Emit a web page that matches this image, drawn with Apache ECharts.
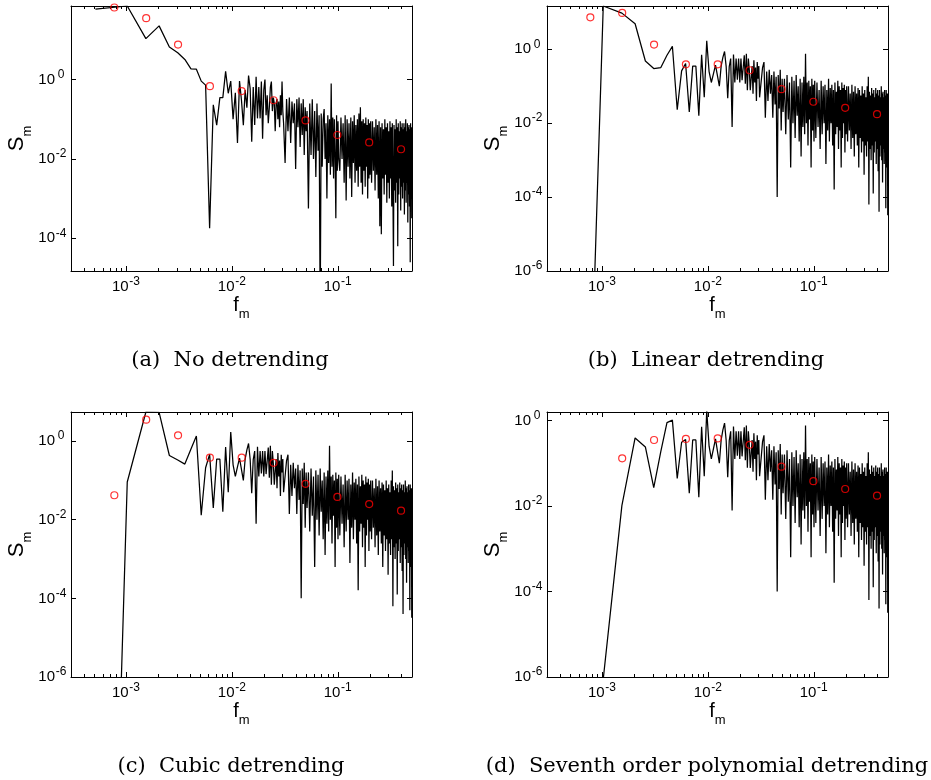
<!DOCTYPE html>
<html><head><meta charset="utf-8">
<script src="https://cdn.jsdelivr.net/npm/echarts@6/dist/echarts.min.js"></script>
<style>html,body{margin:0;padding:0;background:#fff}#c{width:931px;height:780px}</style>
</head><body><div id="c"></div>
<script>
// ---- data ----
const DF = 0.00051; // frequency resolution of the spectrum (f_m = bin * DF)
const binsLow = [1,2,3,4,5,6,7,8,9,10,11,12,13,14,15,16,17,18,19,20,21,22,23,24,25,26,27,28,29,30,
  31,32,33,34,35,36,37,38,39,40,41,42,43,44,45,46,47,48,49,50,51,52,53,54,55,56,57,58,59,60];
const binsTail = [62,64,66,68,70,72,74,76,78,80,82,84,86,88,90,92,94,96,98,100,
  103,106,109,112,115,118,121,124,127,130,133,136,139,142,145,148,151,154,157,160,163,166,169,172,175,178,181,184,187,190,193,196,199,
  204,209,214,219,224,229,234,239,244,249,254,259,264,269,274,279,284,289,294,299,304,309,314,319,324,329,334,339,344,349,354,359,364,369,374,379,384,389,394,399,
  407,415,423,431,439,447,455,463,471,479,487,495,503,511,519,527,535,543,551,559,567,575,583,591,599,607,615,623,631,639,647,655,663,671,679,687,695,703,711,719,
  727,735,743,751,759,767,775,783,791,799,807,815,823,831,839,847,855,863,871,879,887,895,903,911,919,927,935,943,951,959,967,975];

// (a) no detrending
const sLowA = [59,71,10.7,22.4,6.6,4.7,3.2,1.86,1.82,0.91,
  0.72,1.8e-4,0.23,0.071,0.35,0.35,1.6,0.45,0.91,0.1,
  0.46,0.025,0.91,0.30,0.071,0.54,0.195,1.26,0.59,0.027,
  0.65,0.071,1.17,0.105,0.65,0.105,0.89,0.032,0.54,1.0,
  0.126,0.4,0.079,0.2,0.63,0.89,0.16,0.35,0.25,0.05,
  0.25,0.32,0.1,0.28,0.063,0.4,0.126,0.89,0.16,0.079];
const sTailA = [0.0079,0.32,0.05,0.35,0.025,0.28,0.079,0.25,0.0056,0.32,0.063,0.35,0.02,0.25,0.04,0.32,0.0126,0.2,0.05,0.16,
  5.6e-4,0.25,0.0126,0.32,0.01,0.16,0.0035,0.25,0.016,0.126,1e-6,0.14,0.0063,0.1,0.18,0.01,0.079,0.001,0.126,0.0079,
  0.1,0.004,0.79,0.0063,0.11,0.0032,0.1,0.0126,3.2e-4,0.126,0.005,0.089,0.01,
  0.005,0.11,0.01,0.079,0.0025,0.126,8.9e-4,0.1,0.0063,0.079,0.0032,0.11,0.0011,0.089,0.0079,0.126,0.0025,0.071,0.005,0.1,
  0.002,0.14,0.0063,0.2,0.0025,0.089,0.00126,0.1,0.005,0.079,0.002,0.11,0.0063,0.071,0.001,0.1,0.0032,0.079,0.004,0.089,
  0.0025,0.089,0.005,0.063,0.0016,0.1,0.004,0.071,0.001,0.089,
  2e-4,0.063,1.26e-4,0.079,0.0032,0.056,0.00126,0.1,0.004,0.063,
  7.9e-4,0.079,0.0025,0.05,0.001,0.089,0.0032,0.063,6.3e-4,0.079,
  0.002,2e-5,0.071,0.0016,0.056,7.9e-4,0.1,0.0025,0.063,6.3e-5,
  0.079,0.00126,0.05,0.0032,0.089,5e-4,0.063,0.002,0.079,0.001,
  0.056,0.0025,0.079,4e-4,0.063,0.0016,0.1,7.9e-4,0.05,0.0025,
  0.079,2.5e-4,0.063,0.00126,0.071,6.3e-4,0.056,2.5e-5,0.079,0.0016,
  0.063,3.2e-4];

// (b),(c),(d): lowest bins differ, the rest is shared
const sLowB = [1e-26,14.8,9.5,4.9,0.48,0.3,0.32,0.69,1.2,0.023,0.26,0.41];
const sLowC = [1e-28,0.091,5.5,5.4,0.43,0.33,0.26,0.63,1.35,0.013,0.21,0.46];
const sLowD = [1e-20,9e-7,0.0102,0.39,0.24,0.027,0.19,0.89,1.02,0.044,0.31,0.36];
const sMidBCD = [0.02,0.35,0.35,0.016,0.71,0.05,1.7,0.25,0.126,0.22,
  0.37,0.38,0.1,0.35,0.6,0.87,0.34,0.047,0.34,0.56,
  0.0079,0.72,0.126,0.56,0.15,0.56,0.126,0.56,0.145,0.145,
  0.69,0.117,0.76,0.078,0.56,0.27,0.078,0.17,0.35,0.063,
  0.5,0.126,0.32,0.04,0.45,0.16,0.35,0.05];
const sTailBCD = [0.05,0.32,0.45,0.014,0.25,0.04,0.28,0.063,0.2,0.014,0.25,0.032,0.18,1e-4,0.2,0.025,0.28,0.0063,0.16,0.02,
  0.16,0.005,0.2,0.0126,0.126,6.3e-4,0.18,0.01,0.14,0.004,0.2,0.016,0.1,0.0032,0.16,0.00126,0.126,0.0079,0.18,0.005,
  0.76,0.01,0.126,0.0025,0.14,0.0126,0.1,6.3e-4,0.16,0.0063,0.11,0.0032,0.14,
  0.004,0.126,0.0079,0.079,0.002,0.14,0.005,0.1,0.01,0.11,7.9e-4,0.079,0.0063,0.16,0.0032,0.089,0.01,0.11,0.0025,0.079,
  1.6e-4,0.126,0.005,0.071,0.0079,0.14,0.002,0.1,0.0063,0.079,6.3e-4,0.126,0.004,0.089,0.01,0.11,0.0016,0.079,0.005,0.1,
  0.0032,0.1,0.0063,0.063,0.002,0.11,0.004,0.071,0.00126,0.1,
  0.005,0.063,0.0025,0.089,6.3e-4,0.079,0.004,0.056,0.0016,0.1,
  0.0032,0.063,4e-4,0.079,0.0025,0.05,0.00126,0.1,0.0032,0.18,
  6.3e-5,0.071,0.002,0.056,0.001,0.089,0.0025,0.063,1.26e-4,0.079,
  0.0016,0.05,0.0032,0.089,7.9e-4,0.063,0.002,0.079,5e-4,0.056,
  4e-5,0.079,0.00126,0.05,0.0025,0.1,0.001,0.063,2.5e-4,0.071,
  0.002,0.05,7.9e-4,0.079,0.0016,0.056,5e-5,0.079,0.00126,6.3e-4,
  0.063,3.2e-5];

// octave-averaged values (red circles)
const fCircles = [0.00077,0.00154,0.00308,0.00616,0.0123,0.0246,0.0493,0.0986,0.197,0.394];
const circA = [65,35,7.6,0.68,0.51,0.30,0.093,0.040,0.026,0.0175];
const circB = [7.3,9.6,1.34,0.39,0.39,0.27,0.083,0.038,0.026,0.0175];
const circC = [0.042,3.5,1.4,0.38,0.38,0.28,0.082,0.038,0.025,0.017];
const circD = [null,0.13,0.35,0.37,0.38,0.27,0.083,0.038,0.025,0.0174];

// axes
const xRange = [3e-4, 0.5];
const yRanges = [[1.5e-5, 71], [1e-6, 14.8], [1e-6, 5.5], [1e-6, 1.58]];
const xMajor = [1e-3, 1e-2, 1e-1];
const xMinor = [4e-4,5e-4,6e-4,7e-4,8e-4,9e-4,2e-3,3e-3,4e-3,5e-3,6e-3,7e-3,8e-3,9e-3,
  2e-2,3e-2,4e-2,5e-2,6e-2,7e-2,8e-2,9e-2,0.2,0.3,0.4];
const yMajors = [[1e-4,1e-2,1],[1e-6,1e-4,1e-2,1],[1e-6,1e-4,1e-2,1],[1e-6,1e-4,1e-2,1]];
const captions = ['(a)  No detrending','(b)  Linear detrending','(c)  Cubic detrending','(d)  Seventh order polynomial detrending'];

// ---- build ----
const bins = binsLow.concat(binsTail);
const spectra = [
  sLowA.concat(sTailA),
  sLowB.concat(sMidBCD, sTailBCD),
  sLowC.concat(sMidBCD, sTailBCD),
  sLowD.concat(sMidBCD, sTailBCD)
];
const circles = [circA, circB, circC, circD];

const layout = [
  {left:71, top:6, capX:230, capY:361},
  {left:547, top:6, capX:706, capY:361},
  {left:71, top:412, capX:231, capY:767},
  {left:547, top:412, capX:707, capY:767}
];
const W = 341, H = 265;
const SANS = 'Liberation Sans';
const tickRich = {
  b: {fontFamily:SANS, fontSize:15, lineHeight:22, color:'#000'},
  e: {fontFamily:SANS, fontSize:12, lineHeight:9, width:12, align:'left', verticalAlign:'top', color:'#000'}
};
function powLabel(v) {
  const e = (v > 0 && v < 1e3) ? Math.round(Math.log10(v)) : Math.round(v);
  return '{b|10}{e|' + e + '}';
}
const black = {color:'#000', width:1};

const grid = [], xAxis = [], yAxis = [], series = [], graphic = [];
layout.forEach((L, i) => {
  grid.push({left:L.left, top:L.top, width:W, height:H, containLabel:false});
  const base = {type:'log', logBase:10, gridIndex:i, min:xRange[0], max:xRange[1], splitLine:{show:false}, minorTick:{show:false}};
  xAxis.push(Object.assign({}, base, {
    position:'bottom',
    axisLine:{show:true, onZero:false, lineStyle:black},
    axisTick:{show:true, inside:true, length:5, customValues:xMajor, lineStyle:black},
    axisLabel:{show:true, customValues:xMajor, formatter:powLabel, margin:5, rich:tickRich},
    name:'{f|f}{s|m}', nameLocation:'middle', nameGap:12,
    nameTextStyle:{rich:{
      f:{fontFamily:SANS, fontSize:20, lineHeight:22, verticalAlign:'top', color:'#000'},
      s:{fontFamily:SANS, fontSize:13, lineHeight:13, verticalAlign:'top', padding:[13,0,0,0], color:'#000'}
    }}
  }));
  xAxis.push(Object.assign({}, base, {
    position:'bottom',
    axisLine:{show:false, onZero:false},
    axisTick:{show:true, inside:true, length:3, customValues:xMinor, lineStyle:black},
    axisLabel:{show:false}
  }));
  xAxis.push(Object.assign({}, base, {
    position:'top',
    axisLine:{show:true, onZero:false, lineStyle:black},
    axisTick:{show:true, inside:true, length:5, customValues:xMajor, lineStyle:black},
    axisLabel:{show:false}
  }));
  xAxis.push(Object.assign({}, base, {
    position:'top',
    axisLine:{show:false, onZero:false},
    axisTick:{show:true, inside:true, length:3, customValues:xMinor, lineStyle:black},
    axisLabel:{show:false}
  }));
  const ybase = {type:'log', logBase:10, gridIndex:i, min:yRanges[i][0], max:yRanges[i][1], splitLine:{show:false}};
  yAxis.push(Object.assign({}, ybase, {
    position:'left',
    axisLine:{show:true, onZero:false, lineStyle:black},
    axisTick:{show:true, inside:true, length:5, customValues:yMajors[i], lineStyle:black},
    axisLabel:{show:true, customValues:yMajors[i], formatter:powLabel, margin:4, rich:tickRich},
    name:'{S|S}{s|m}', nameLocation:'middle', nameGap:36,
    nameTextStyle:{rich:{
      S:{fontFamily:SANS, fontSize:22, lineHeight:24, verticalAlign:'top', color:'#000'},
      s:{fontFamily:SANS, fontSize:13, lineHeight:12, verticalAlign:'top', padding:[15,0,0,0], color:'#000'}
    }}
  }));
  yAxis.push(Object.assign({}, ybase, {
    position:'right',
    axisLine:{show:true, onZero:false, lineStyle:black},
    axisTick:{show:true, inside:true, length:5, customValues:yMajors[i], lineStyle:black},
    axisLabel:{show:false}
  }));
  const vals = spectra[i];
  series.push({
    type:'line', xAxisIndex:4*i, yAxisIndex:2*i,
    data: bins.map((k, j) => [k * DF, vals[j]]),
    showSymbol:false, symbol:'none', clip:true,
    lineStyle:{color:'#000', width:1.25}, z:2, animation:false
  });
  const cv = circles[i];
  series.push({
    type:'scatter', xAxisIndex:4*i, yAxisIndex:2*i,
    data: fCircles.map((f, j) => [f, cv[j]]).filter(d => d[1] != null),
    symbol:'circle', symbolSize:7,
    itemStyle:{color:'rgba(0,0,0,0)', borderColor:'#ff0000', borderWidth:1.2},
    z:3, animation:false
  });
  graphic.push({
    type:'text', x:L.capX, y:L.capY, z:10,
    style:{text:captions[i], fill:'#000', font:'21px "DejaVu Serif"', textAlign:'center', textVerticalAlign:'middle'}
  });
});

const chart = echarts.init(document.getElementById('c'), null, {renderer:'canvas'});
chart.setOption({
  animation:false,
  backgroundColor:'#fff',
  textStyle:{fontFamily:SANS},
  grid, xAxis, yAxis, series, graphic
});
</script>
</body></html>
